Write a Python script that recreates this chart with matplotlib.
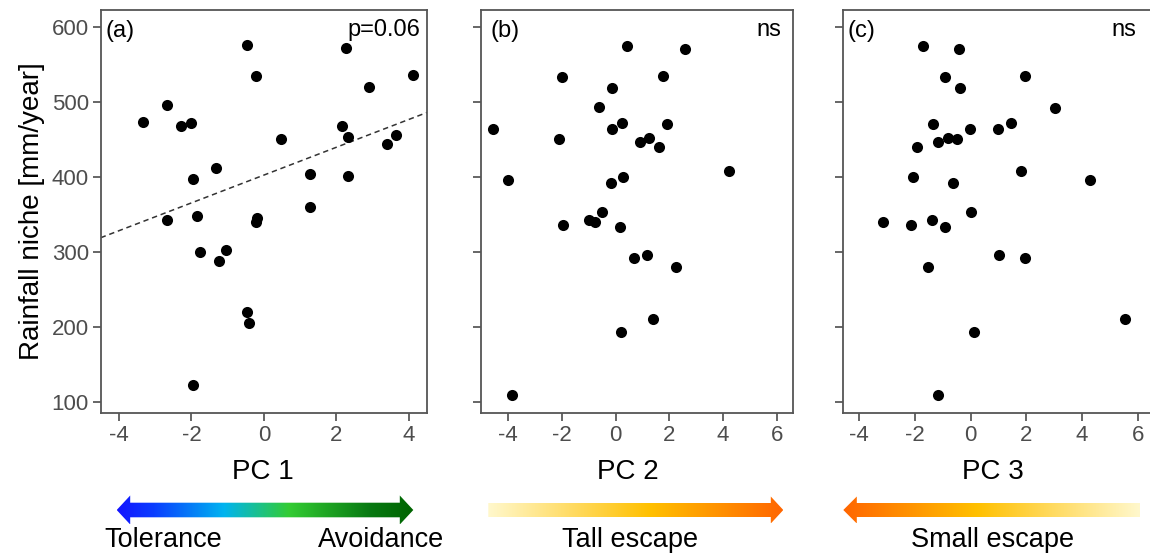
import numpy as np
import matplotlib
matplotlib.use("Agg")
import matplotlib.pyplot as plt
from matplotlib.colors import LinearSegmentedColormap
from matplotlib.patches import Polygon

plt.rcParams['font.family'] = ['Liberation Sans', 'DejaVu Sans']

# ---- data ----
rain_a = [474, 496, 468, 473, 398, 343, 349, 301, 413, 289, 303, 576, 535, 345.5, 341,
          221, 206, 123, 451, 405, 360, 572, 468, 454, 402, 521, 444, 456, 536]
pc1 = [-3.33, -2.69, -2.29, -2.0, -1.97, -2.69, -1.86, -1.77, -1.33, -1.24, -1.05, -0.46, -0.21, -0.2, -0.23,
       -0.46, -0.41, -1.95, 0.47, 1.27, 1.27, 2.28, 2.15, 2.33, 2.33, 2.91, 3.41, 3.65, 4.11]

rain_b = [575, 571, 534, 535, 519, 494, 465, 465, 472, 471, 451, 447, 453, 441, 408.5,
          397, 393, 400, 354, 343, 340, 336, 334, 293, 296, 281, 211, 194.5, 110]
pc2 = [0.44, 2.59, -1.99, 1.78, -0.13, -0.62, -4.56, -0.13, 0.23, 1.91, -2.12, 0.91, 1.24, 1.62, 4.24,
       -4.0, -0.17, 0.26, -0.51, -1.0, -0.76, -1.95, 0.16, 0.7, 1.17, 2.26, 1.38, 0.2, -3.87]

rain_c = [575, 571, 534, 535, 519, 493, 471, 465, 465, 472, 453, 451, 447, 441, 400,
          408.5, 397, 393, 354, 340, 336, 343, 334, 296, 293, 281, 211, 194.5, 110]
pc3 = [-1.72, -0.42, -0.9, 1.94, -0.36, 3.04, -1.34, -0.03, 0.97, 1.44, -0.79, -0.47, -1.17, -1.9, -2.06,
       1.8, 4.27, -0.61, 0.03, -3.15, -2.14, -1.38, -0.93, 1.02, 1.94, -1.52, 5.55, 0.12, -1.17]

fit_intercept_a = 403.0
fit_slope_a = 18.5

panel_tags = ['(a)', '(b)', '(c)']
stat_labels = ['p=0.06', 'ns', 'ns']
x_titles = ['PC 1', 'PC 2', 'PC 3']
y_ticks = [100, 200, 300, 400, 500, 600]
x_ticks_a = [-4, -2, 0, 2, 4]
x_ticks_bc = [-4, -2, 0, 2, 4, 6]

W, H = 1150, 555
fig = plt.figure(figsize=(W / 100, H / 100), dpi=100)

def px_axes(left, top, right, bottom):
    return fig.add_axes([left / W, 1 - bottom / H, (right - left) / W, (bottom - top) / H])

axa = px_axes(100.7, 10, 427, 413)
axb = px_axes(480.7, 10, 792.7, 413)
axc = px_axes(842.7, 10, 1154.7, 413)

spine_col = '#555555'
tick_col = '#4d4d4d'
for ax, xs, ys, xl, xt in [(axa, pc1, rain_a, (-4.51, 4.51), x_ticks_a),
                           (axb, pc2, rain_b, (-5.03, 6.6), x_ticks_bc),
                           (axc, pc3, rain_c, (-4.58, 6.6), x_ticks_bc)]:
    ax.scatter(xs, ys, s=64, color='black', zorder=3, linewidths=0)
    ax.set_xlim(*xl)
    ax.set_ylim(86, 623)
    ax.set_xticks(xt)
    ax.set_xticklabels([str(t) for t in xt])
    ax.set_yticks(y_ticks)
    for s in ax.spines.values():
        s.set_color(spine_col)
        s.set_linewidth(1.3)
    ax.tick_params(axis='both', direction='out', length=5.5, width=1.2, color=tick_col,
                   labelcolor=tick_col, labelsize=16, pad=3)

axa.set_yticklabels([str(t) for t in y_ticks])
axb.set_yticklabels([])
axc.set_yticklabels([])
axa.set_ylabel('Rainfall niche [mm/year]', fontsize=20, color='black', labelpad=5)

# regression line in panel (a)
xl = np.array(axa.get_xlim())
axa.plot(xl, fit_intercept_a + fit_slope_a * xl, linestyle=(0, (3.5, 2.5)), color='#333333', lw=1.1, zorder=2)

# tags and stats
for ax, tag, stat, tx, sx in [(axa, panel_tags[0], stat_labels[0], 0.016, 0.979),
                              (axb, panel_tags[1], stat_labels[1], 0.032, 0.965),
                              (axc, panel_tags[2], stat_labels[2], 0.015, 0.942)]:
    ax.text(tx, 0.948, tag, transform=ax.transAxes, fontsize=17, ha='left', va='center')
    ax.text(sx, 0.95, stat, transform=ax.transAxes, fontsize=17, ha='right', va='center')

# overlay for labels and arrows (pixel coordinates)
ov = fig.add_axes([0, 0, 1, 1], zorder=-1)
ov.set_xlim(0, W)
ov.set_ylim(H, 0)
ov.axis('off')

for x, t in [(263, x_titles[0]), (628, x_titles[1]), (993, x_titles[2])]:
    ov.text(x, 472, t, fontsize=20, ha='center', va='center')

def grad_arrow(x0, x1, yc, sh, hh, hl, left_head, right_head, colors):
    pts = []
    if left_head:
        pts += [(x0, yc), (x0 + hl, yc - hh), (x0 + hl, yc - sh)]
    else:
        pts += [(x0, yc - sh)]
    if right_head:
        pts += [(x1 - hl, yc - sh), (x1 - hl, yc - hh), (x1, yc), (x1 - hl, yc + hh), (x1 - hl, yc + sh)]
    else:
        pts += [(x1, yc - sh), (x1, yc + sh)]
    if left_head:
        pts += [(x0 + hl, yc + sh), (x0 + hl, yc + hh)]
    else:
        pts += [(x0, yc + sh)]
    poly = Polygon(pts, closed=True, facecolor='none', edgecolor='none')
    ov.add_patch(poly)
    cmap = LinearSegmentedColormap.from_list('g', colors)
    grad = np.linspace(0, 1, 512).reshape(1, -1)
    im = ov.imshow(grad, cmap=cmap, extent=[x0, x1, yc + hh, yc - hh], aspect='auto', interpolation='bilinear')
    im.set_clip_path(poly)

grad_arrow(116.7, 413.3, 510, 7.3, 14.5, 13.5, True, True,
           [(0.0, '#1414ff'), (0.12, '#0a3cff'), (0.36, '#00b4f0'), (0.58, '#33cc33'), (0.85, '#087a12'), (1.0, '#006400')])
grad_arrow(488.3, 783.3, 510, 7.0, 13.5, 12.5, False, True,
           [(0.0, '#fff8cc'), (0.55, '#ffc000'), (1.0, '#ff6600')])
grad_arrow(843.3, 1140, 510, 7.0, 13.5, 13.5, True, False,
           [(0.0, '#ff6600'), (0.45, '#ffc000'), (1.0, '#fff8cc')])

for x, t in [(163, 'Tolerance'), (381, 'Avoidance'), (630, 'Tall escape'), (993, 'Small escape')]:
    ov.text(x, 540, t, fontsize=19.5, ha='center', va='center')

fig.savefig('out.png', dpi=100)
